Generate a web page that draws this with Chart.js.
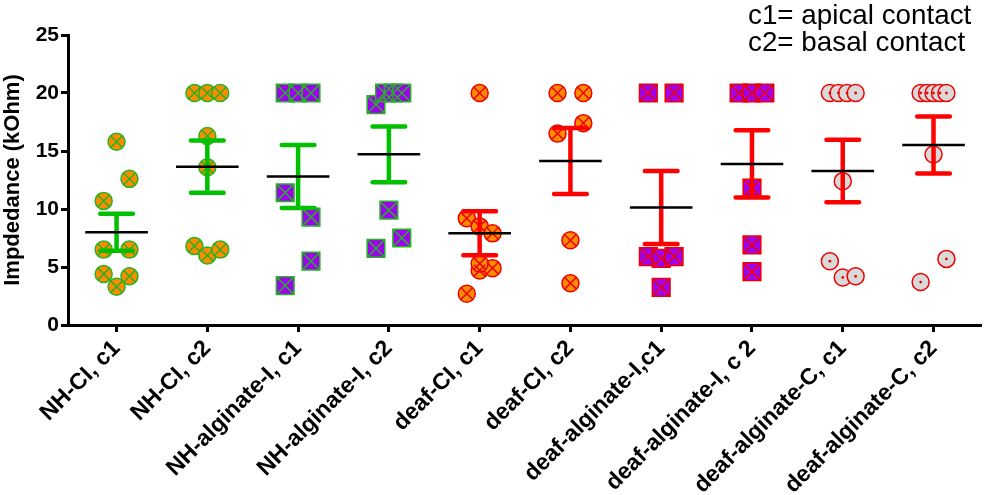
<!DOCTYPE html>
<html>
<head>
<meta charset="utf-8">
<script src="https://cdn.jsdelivr.net/npm/chart.js@4.4.0/dist/chart.umd.min.js"></script>
<style>
  html, body { margin: 0; padding: 0; background: #fff; }
  #wrap { position: relative; width: 994px; height: 495px; }
  #note {
    position: absolute; left: 748px; top: 1px;
    font: 27.8px/27px 'Liberation Sans', Arial, sans-serif; color: #000;
    white-space: nowrap;
  }
</style>
</head>
<body>
<div id="wrap">
  <canvas id="cv"></canvas>
  <div id="note">c1= apical contact<br>c2= basal contact</div>
</div>
<script>
// ── DATA (kOhm, one value per electrode) ──────────────────────────────────────
const CATEGORIES = ['NH-CI, c1', 'NH-CI, c2', 'NH-alginate-I, c1', 'NH-alginate-I, c2',
  'deaf-CI, c1', 'deaf-CI, c2', 'deaf-alginate-I,c1', 'deaf-alginate-I, c 2',
  'deaf-alginate-C, c1', 'deaf-alginate-C, c2'];

const nhCiC1     = [15.8, 10.7, 12.6, 6.5, 6.5, 4.4, 3.3, 4.2];
const nhCiC2     = [20, 20, 20, 16.3, 13.6, 6.8, 6.0, 6.5];
const nhAlgIC1   = [20, 20, 20, 11.4, 9.3, 3.4, 5.5];
const nhAlgIC2   = [19.0, 20, 20, 20, 9.9, 6.6, 7.5];
const deafCiC1   = [20, 9.2, 8.5, 7.9, 5.3, 2.7, 4.7, 4.9];
const deafCiC2   = [20, 20, 16.5, 17.4, 7.3, 3.6];
const deafAlgIC1 = [20, 20, 5.9, 5.75, 5.9, 3.25];
const deafAlgIC2 = [20, 20, 20, 11.8, 6.9, 4.6];
const deafAlgCC1 = [20, 20, 20, 20, 12.4, 5.5, 4.1, 4.2];
const deafAlgCC2 = [20, 20, 20, 20, 20, 14.7, 3.7, 5.7];

const Y_TICKS = [0, 5, 10, 15, 20, 25];

const GROUPS = [nhCiC1, nhCiC2, nhAlgIC1, nhAlgIC2, deafCiC1, deafCiC2,
  deafAlgIC1, deafAlgIC2, deafAlgCC1, deafAlgCC2];

// ── STYLE ─────────────────────────────────────────────────────────────────────
const ORANGE = '#ff8c00', PURPLE = '#a000f0', GREY = '#d9d9d9';
const GREEN = '#22b422', GREEN_BAR = '#00c000', RED = '#ee0000', RED_BAR = '#ff0000';
// marker look per group: [shape, fill, edge, inner mark]
const LOOK = [
  ['circle', ORANGE, GREEN, 'cross'], ['circle', ORANGE, GREEN, 'cross'],
  ['rect', PURPLE, GREEN, 'cross'],   ['rect', PURPLE, GREEN, 'cross'],
  ['circle', ORANGE, RED, 'cross'],   ['circle', ORANGE, RED, 'cross'],
  ['rect', PURPLE, RED, 'cross'],     ['rect', PURPLE, RED, 'cross'],
  ['circle', GREY, RED, 'dot'],       ['circle', GREY, RED, 'dot']
];
const SLOT = 0.142;     // horizontal step between neighbours (category units)
const ROW_GAP = 2.25;   // values closer than this share a row
const CAP = 0.18, MEAN_W = 0.345;

// ── HELPERS ───────────────────────────────────────────────────────────────────
const mean = a => a.reduce((s, v) => s + v, 0) / a.length;
const sem = a => {
  const m = mean(a);
  return Math.sqrt(a.reduce((s, v) => s + (v - m) ** 2, 0) / (a.length - 1) / a.length);
};

// column scatter: close values are put side by side, centred on the column
function spread(vals, g) {
  const idx = vals.map((_, i) => i).sort((a, b) => vals[a] - vals[b]);
  const rows = [];
  idx.forEach(i => {
    const row = rows[rows.length - 1];
    if (row && vals[i] - vals[row[0]] < ROW_GAP) row.push(i); else rows.push([i]);
  });
  const pts = [];
  rows.forEach(row => {
    row.sort((a, b) => a - b);
    const n = row.length;
    row.forEach((i, k) => {
      const slot = n === 1 ? 0 : n === 2 ? (k ? 1 : -1) : -1 + 2 * k / (n - 1);
      pts.push({ x: g + slot * SLOT, y: vals[i] });
    });
  });
  return pts;
}

// ── DATASETS ──────────────────────────────────────────────────────────────────
const datasets = [];
const barsGreen = [], barsRed = [], means = [];

GROUPS.forEach((vals, g) => {
  const [shape, fill, edge, inner] = LOOK[g];
  const pts = spread(vals, g);
  const r = shape === 'rect' ? 12.5 : 8.5;
  datasets.push({
    data: pts, order: 4, pointStyle: shape, pointRadius: r,
    backgroundColor: fill, borderColor: edge, borderWidth: 1.5
  });
  datasets.push(inner === 'cross'
    ? { data: pts, order: 3, pointStyle: 'crossRot', pointRadius: r - 0.5,
        borderColor: edge, borderWidth: 1.5 }
    : { data: pts, order: 3, pointStyle: 'circle', pointRadius: 1.4,
        backgroundColor: edge, borderWidth: 0 });

  const m = mean(vals), s = sem(vals);
  const bars = g < 4 ? barsGreen : barsRed;
  bars.push({ x: g, y: m - s }, { x: g, y: m + s }, { x: g, y: null },
    { x: g - CAP, y: m + s }, { x: g + CAP, y: m + s }, { x: g, y: null },
    { x: g - CAP, y: m - s }, { x: g + CAP, y: m - s }, { x: g, y: null });
  means.push({ x: g - MEAN_W, y: m }, { x: g + MEAN_W, y: m }, { x: g, y: null });
});

const lineSet = (data, color, width, order, cap) => ({
  data, order, showLine: true, spanGaps: false, pointRadius: 0,
  borderColor: color, borderWidth: width, borderCapStyle: cap
});
datasets.push(lineSet(barsGreen, GREEN_BAR, 4.5, 2, 'round'));
datasets.push(lineSet(barsRed, RED_BAR, 4.5, 2, 'round'));
datasets.push(lineSet(means, '#000', 2.5, 1, 'butt'));

// ── CHART ─────────────────────────────────────────────────────────────────────
Chart.defaults.font.family = "'Liberation Sans', Arial, sans-serif";
Chart.defaults.color = '#000';

new Chart(document.getElementById('cv'), {
  type: 'scatter',
  data: { datasets },
  options: {
    responsive: true, maintainAspectRatio: false, animation: false,
    layout: { padding: { top: 35, right: 5, left: 0, bottom: 0 } },
    plugins: { legend: { display: false }, tooltip: { enabled: false } },
    scales: {
      x: {
        type: 'linear', min: -0.535, max: 9.512,
        afterBuildTicks: sc => { sc.ticks = CATEGORIES.map((_, i) => ({ value: i })); },
        afterFit: sc => { sc.height = 170; },
        ticks: {
          autoSkip: false, minRotation: 45, maxRotation: 45, padding: 3,
          font: { size: 23, weight: 'bold' },
          callback: v => CATEGORIES[v]
        },
        grid: { drawOnChartArea: false, drawTicks: true, tickLength: 7, color: '#000', lineWidth: 3 },
        border: { display: true, color: '#000', width: 3 }
      },
      y: {
        min: 0, max: 25,
        afterBuildTicks: sc => { sc.ticks = Y_TICKS.map(v => ({ value: v })); },
        afterFit: sc => { sc.width = 68; },
        ticks: { padding: 2, font: { size: 21, weight: 'bold' } },
        grid: { drawOnChartArea: false, drawTicks: true, tickLength: 7, color: '#000', lineWidth: 3 },
        border: { display: true, color: '#000', width: 3 },
        title: {
          display: true, text: 'Impdedance (kOhm)', padding: 0,
          font: { size: 22, weight: 'bold' }
        }
      }
    }
  }
});
</script>
</body>
</html>
